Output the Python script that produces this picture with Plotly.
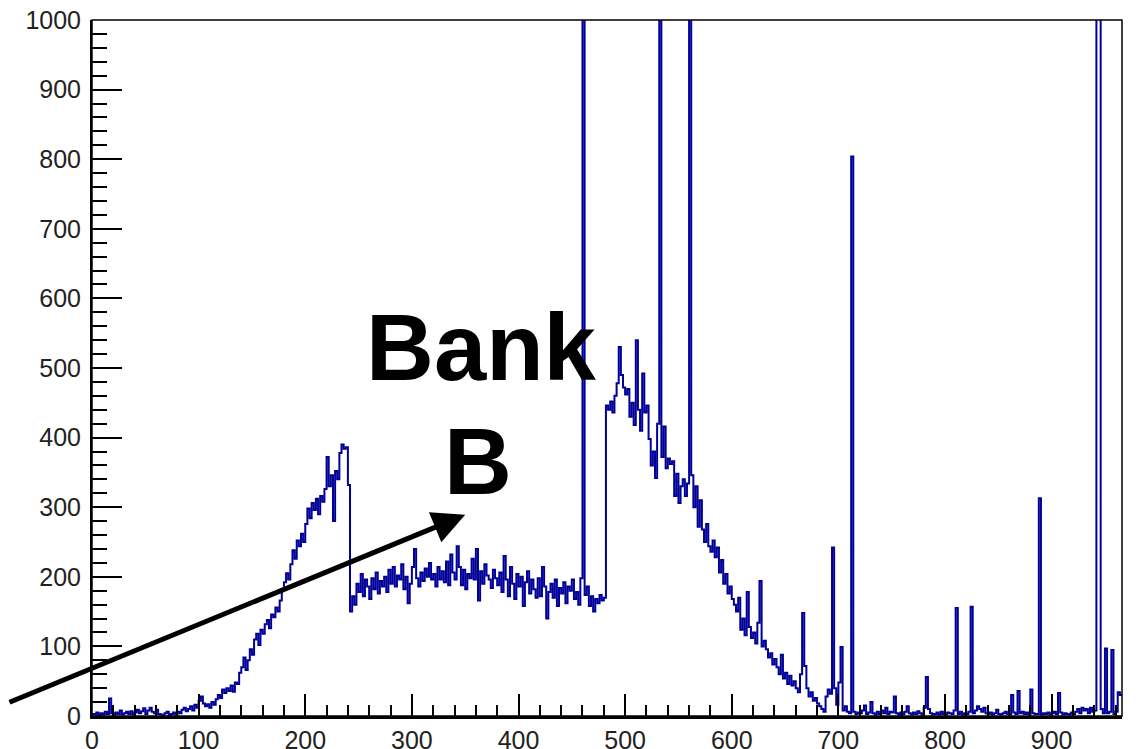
import plotly.graph_objects as go

# Histogram: 2-unit bins starting at 0
bin_width = 2
counts = [
    3, 2, 5, 1, 4, 2, 6, 3, 25, 4,            # 0-20
    2, 5, 3, 8, 2, 4, 6, 3, 7, 2,             # 20-40
    5, 9, 4, 7, 11, 3, 8, 12, 6, 4,           # 40-60
    9, 3, 2, 0, 4, 6, 1, 3, 5, 2,             # 60-80
    6, 4, 9, 12, 7, 10, 14, 8, 16, 12,        # 80-100
    22, 28, 18, 14, 17, 12, 20, 16, 24, 30,   # 100-120
    26, 38, 33, 40, 36, 44, 35, 48, 46, 62,   # 120-140
    70, 84, 66, 80, 96, 88, 110, 118, 102, 124,   # 140-160
    118, 132, 138, 126, 146, 142, 156, 150, 166, 180,  # 160-180
    192, 205, 196, 218, 238, 226, 252, 244, 262, 250,  # 180-200
    276, 298, 284, 306, 296, 312, 290, 316, 308, 326,  # 200-220
    372, 330, 346, 280, 352, 340, 378, 390, 384, 386,  # 220-240
    332, 150, 172, 160, 190, 178, 204, 172, 196, 186,  # 240-260
    168, 198, 182, 206, 176, 194, 186, 200, 178, 210,  # 260-280
    190, 214, 186, 202, 196, 218, 182, 200, 162, 190,  # 280-300
    214, 240, 198, 186, 206, 194, 212, 200, 220, 196,  # 300-320
    204, 186, 214, 196, 208, 192, 222, 188, 232, 206,  # 320-340
    196, 244, 214, 188, 210, 182, 204, 198, 226, 196,  # 340-360
    240, 166, 208, 190, 218, 202, 196, 184, 210, 198,  # 360-380
    188, 206, 178, 230, 196, 172, 214, 190, 168, 204,  # 380-400
    186, 200, 158, 192, 208, 176, 196, 182, 170, 198,  # 400-420
    172, 214, 186, 140, 178, 190, 170, 196, 158, 184,  # 420-440
    176, 192, 162, 186, 180, 196, 168, 178, 160, 198,  # 440-460
    1200, 174, 186, 158, 172, 150, 168, 162, 174, 166,  # 460-480
    170, 446, 440, 452, 436, 460, 478, 530, 490, 472,  # 480-500
    462, 470, 430, 450, 418, 540, 440, 410, 492, 436,  # 500-520
    446, 398, 360, 380, 342, 420, 1200, 372, 416, 356,  # 520-540
    370, 362, 366, 316, 348, 306, 330, 340, 316, 334,  # 540-560
    1200, 346, 300, 330, 272, 310, 268, 250, 276, 244,  # 560-580
    236, 252, 228, 242, 206, 224, 190, 204, 176, 186,  # 580-600
    168, 160, 150, 170, 124, 140, 116, 178, 128, 112,  # 600-620
    120, 104, 134, 194, 100, 108, 96, 84, 90, 74,      # 620-640
    82, 70, 60, 88, 54, 62, 46, 58, 44, 50,            # 640-660
    40, 34, 60, 148, 72, 40, 28, 34, 22, 26,           # 660-680
    18, 14, 10, 6, 28, 38, 32, 242, 40, 16,            # 680-700
    48, 99, 8, 14, 6, 4, 804, 6, 3, 5,                 # 700-720
    4, 8, 15, 3, 5, 20, 4, 2, 6, 3,                    # 720-740
    8, 4, 12, 3, 6, 5, 28, 4, 2, 5,                    # 740-760
    3, 6, 14, 4, 2, 5, 3, 7, 4, 2,                     # 760-780
    12, 56, 10, 4, 2, 3, 5, 2, 6, 3,                   # 780-800
    2, 5, 4, 3, 8, 155, 3, 6, 2, 4,                    # 800-820
    3, 6, 157, 4, 8, 14, 10, 6, 12, 4,                 # 820-840
    3, 5, 2, 4, 9, 3, 2, 4, 6, 3,                      # 840-860
    2, 30, 5, 3, 36, 4, 6, 3, 5, 2,                    # 860-880
    38, 4, 3, 3, 313, 2, 4, 3, 5, 2,                   # 880-900
    4, 6, 3, 33, 5, 2, 4, 3, 2, 5,                     # 900-920
    3, 6, 10, 4, 12, 8, 10, 4, 12, 6,                  # 920-940
    8, 1300, 1300, 10, 4, 97, 4, 6, 95, 3,             # 940-960
    6, 34, 30,                                         # 960-966
]

x_range = [0, 966]
y_range = [0, 1000]
x_tick_vals = [0, 100, 200, 300, 400, 500, 600, 700, 800, 900]
y_tick_vals = [0, 100, 200, 300, 400, 500, 600, 700, 800, 900, 1000]

edges = [i * bin_width for i in range(len(counts) + 1)]
ys = counts + [counts[-1]]

fig = go.Figure()
fig.add_trace(go.Scatter(
    x=edges, y=ys, mode="lines", line=dict(shape="hv", color="#000099", width=2),
    showlegend=False, hoverinfo="skip",
))

tickfont = dict(family="Liberation Sans, Arial, sans-serif", size=25, color="#222222")

fig.update_layout(
    width=1133, height=741,
    margin=dict(l=84, r=19, t=12, b=33),
    paper_bgcolor="white", plot_bgcolor="white",
    xaxis=dict(
        range=x_range, tickmode="array", tickvals=x_tick_vals,
        ticktext=[str(v) for v in x_tick_vals],
        ticks="inside", ticklen=22, tickwidth=1.5, tickcolor="black",
        minor=dict(dtick=20, ticks="inside", ticklen=11, tickwidth=1.5, tickcolor="black", showgrid=False),
        showgrid=False, zeroline=False, showline=True, linecolor="black", linewidth=3,
        tickfont=tickfont, ticklabelstandoff=0, automargin=False, ticklabeloverflow="allow",
    ),
    yaxis=dict(
        range=y_range, tickmode="array", tickvals=y_tick_vals,
        ticktext=[str(v) for v in y_tick_vals],
        ticks="inside", ticklen=30, tickwidth=1.5, tickcolor="black",
        minor=dict(dtick=20, ticks="inside", ticklen=15, tickwidth=1.5, tickcolor="black", showgrid=False),
        showgrid=False, zeroline=False, showline=True, linecolor="black", linewidth=2,
        tickfont=tickfont, ticklabelstandoff=4, automargin=False, ticklabeloverflow="allow",
    ),
    shapes=[dict(type="rect", xref="paper", yref="paper", x0=0, x1=1, y0=0, y1=1,
                 line=dict(color="black", width=1.5), layer="above")],
)

label_font = dict(family="Liberation Sans, Arial, sans-serif", size=94, color="black")
fig.add_annotation(x=365, y=530, xref="x", yref="y", text="<b>Bank</b>", showarrow=False,
                   font=label_font, xanchor="center", yanchor="middle")
fig.add_annotation(x=362, y=366, xref="x", yref="y", text="<b>B</b>", showarrow=False,
                   font=label_font, xanchor="center", yanchor="middle")
fig.add_annotation(x=350, y=289, xref="x", yref="y", text="", showarrow=True,
                   ax=-465, ay=188, axref="pixel", ayref="pixel",
                   arrowhead=2, arrowsize=1.3, arrowwidth=5, arrowcolor="black", standoff=0)

fig.write_html("out.html")
